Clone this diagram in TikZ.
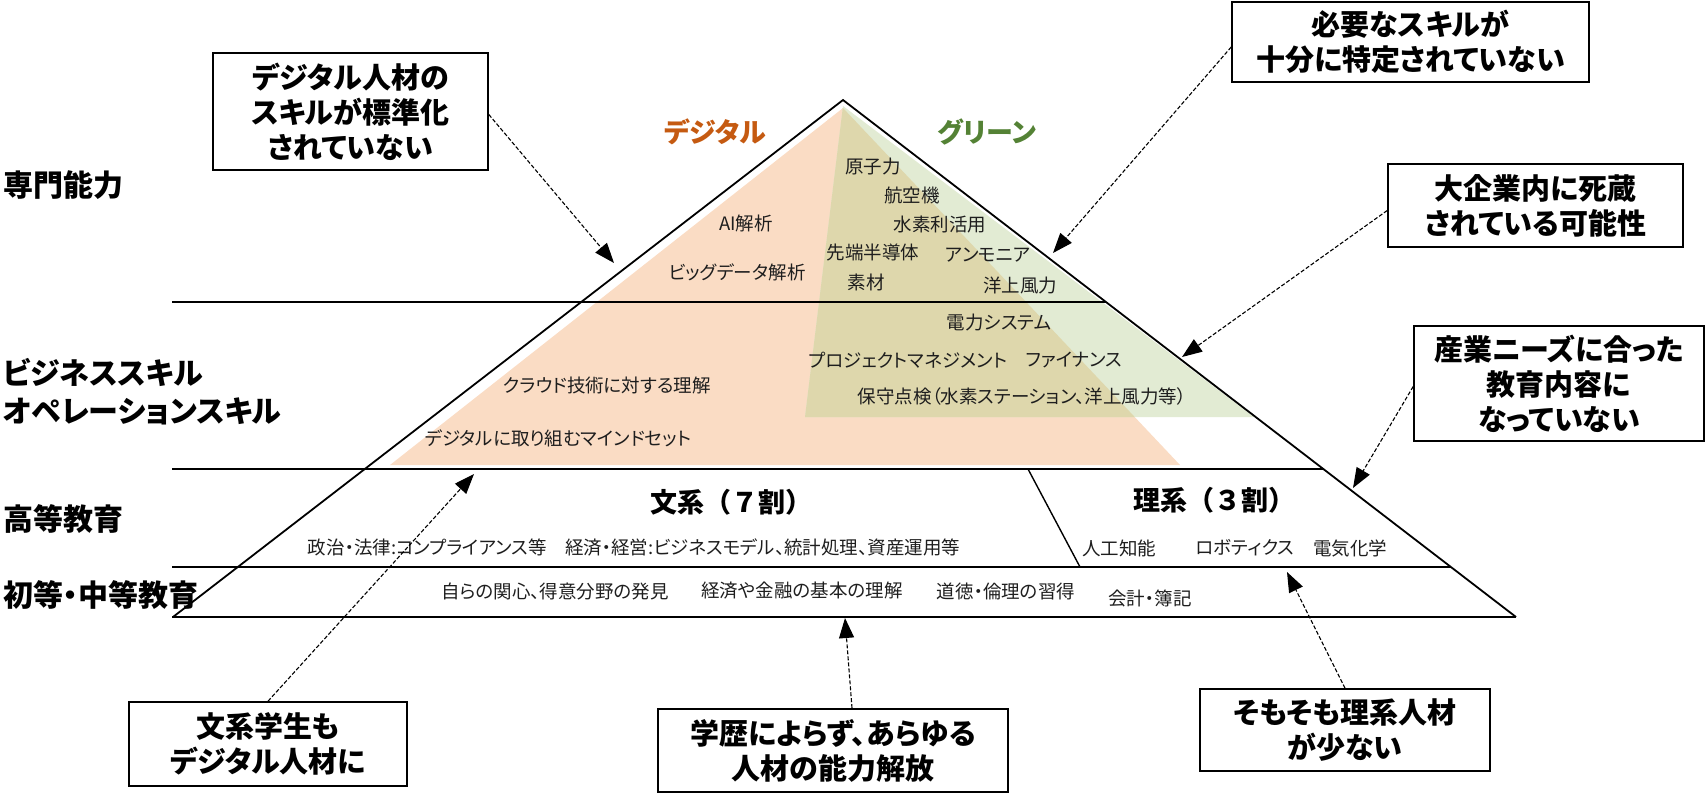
\documentclass[tikz,border=0pt]{standalone}
\usepackage{fontspec}
\setmainfont{Noto Sans CJK JP}[RawFeature=+palt]
\newfontfamily\nopaltfont{Noto Sans CJK JP}
\usetikzlibrary{arrows.meta}
\definecolor{orfill}{RGB}{250,220,196}
\definecolor{grfill}{RGB}{226,235,211}
\definecolor{ovfill}{RGB}{222,215,172}
\definecolor{digi}{RGB}{197,90,17}
\definecolor{gree}{RGB}{84,130,53}
\definecolor{txt}{RGB}{30,30,30}
\begin{document}
\begin{tikzpicture}[x=1pt,y=-1pt,
  small/.style={font=\fontsize{18.5}{20}\selectfont, text=txt, inner sep=0},
  lbl/.style={font=\fontsize{30}{34}\selectfont\bfseries, anchor=west, inner sep=0},
  head/.style={font=\fontsize{27}{30}\selectfont\nopaltfont\bfseries, inner sep=0},
  box/.style={draw, line width=1.6pt, fill=white, align=center, inner sep=0, font=\fontsize{29}{35}\selectfont\bfseries},
  conn/.style={-{Triangle[length=20pt,width=15pt]}, line width=1.1pt, dash pattern=on 4pt off 2pt},
  tier/.style={line width=2pt},
]
\useasboundingbox (0,0) rectangle (1706,795);
% coloured areas
\path[fill=orfill] (843,108) -- (1180,465) -- (390,465) -- cycle;
\path[fill=grfill] (843,106) -- (1254,417) -- (805,417) -- cycle;
\begin{scope}
\clip (843,108) -- (1180,465) -- (390,465) -- cycle;
\path[fill=ovfill] (843,106) -- (1254,417) -- (805,417) -- cycle;
\end{scope}
% pyramid
\draw[line width=1.8pt, line join=miter] (173,617) -- (843,100) -- (1516,617);
\draw[tier] (172,302) -- (1106,302);
\draw[tier] (172,469) -- (1323,469);
\draw[tier] (172,567) -- (1451,567);
\draw[tier] (172,617) -- (1516,617);
\draw[line width=1.4pt] (1028,469) -- (1080,567);
% left labels
\node[lbl] (l1) at (3,185) {専門能力};
\node[lbl] (l2) at (3,372) {ビジネススキル};
\node[lbl] (l3) at (3,411) {オペレーションスキル};
\node[lbl] (l4) at (3,519) {高等教育};
\node[lbl] (l5) at (3,595) {初等・中等教育};
% headings
\node[font=\fontsize{27}{30}\selectfont\bfseries, text=digi, inner sep=0] (hd) at (715,132) {デジタル};
\node[font=\fontsize{27}{30}\selectfont\bfseries, text=gree, inner sep=0] (hg) at (987,132) {グリーン};
% small texts
\node[small] (s1) at (873,167) {原子力};
\node[small] (s2) at (912,195) {航空機};
\node[small] (s3) at (746,223) {AI解析};
\node[small] (s4) at (940,225) {水素利活用};
\node[small] (s5) at (873,252) {先端半導体};
\node[small] (s6) at (988,255) {アンモニア};
\node[small] (s7) at (737,272) {ビッグデータ解析};
\node[small] (s8) at (866,282) {素材};
\node[small] (s9) at (1020,285) {洋上風力};
\node[small] (s10) at (999,323) {電力システム};
\node[small] (s11) at (908,360) {プロジェクトマネジメント};
\node[small] (s12) at (1074,360) {ファイナンス};
\node[small] (s13) at (607,385) {クラウド技術に対する理解};
\node[small] (s14) at (1022,396) {保守点検（水素ステーション、洋上風力等）};
\node[small] (s15) at (558,438) {デジタルに取り組むマインドセット};
\node[head] (h1) at (731,502) {文系（７割）};
\node[head] (h2) at (1214,500) {理系（３割）};
\node[small] (s16) at (634,547) {政治・法律:コンプライアンス等　経済・経営:ビジネスモデル、統計処理、資産運用等};
\node[small] (s17) at (1119,548) {人工知能};
\node[small] (s18) at (1245,548) {ロボティクス};
\node[small] (s19) at (1350,548) {電気化学};
\node[small] (s20) at (555,591) {自らの関心、得意分野の発見};
\node[small] (s21) at (802,591) {経済や金融の基本の理解};
\node[small] (s22) at (1006,591) {道徳・倫理の習得};
\node[small] (s23) at (1150,598) {会計・簿記};
% callout boxes
\node[box, minimum width=275pt, minimum height=117pt] (b1) at (350.5,111.5) {デジタル人材の\\スキルが標準化\\されていない};
\node[box, minimum width=357pt, minimum height=80pt] (b2) at (1410.5,42) {必要なスキルが\\十分に特定されていない};
\node[box, minimum width=295pt, minimum height=83pt] (b3) at (1535.5,205.5) {大企業内に死蔵\\されている可能性};
\node[box, minimum width=290pt, minimum height=115pt] (b4) at (1559,383.5) {産業ニーズに合った\\教育内容に\\なっていない};
\node[box, minimum width=278pt, minimum height=84pt] (b5) at (268,744) {文系学生も\\デジタル人材に};
\node[box, minimum width=350pt, minimum height=83pt] (b6) at (833,750.5) {学歴によらず、あらゆる\\人材の能力解放};
\node[box, minimum width=290pt, minimum height=82pt] (b7) at (1345,730) {そもそも理系人材\\が少ない};
% arrow targets
\coordinate (t1) at (614,263);
\coordinate (t2) at (1053,253);
\coordinate (t3) at (1182,357);
\coordinate (t4) at (1353,488);
\coordinate (t5) at (474,474);
\coordinate (t6) at (845,618);
\coordinate (t7) at (1287,572);
\draw[conn] ([yshift=-3pt]b1.east) -- (t1);
\draw[conn] ([yshift=-5pt]b2.west) -- (t2);
\draw[conn] ([yshift=-5pt]b3.west) -- (t3);
\draw[conn] ([yshift=-3pt]b4.west) -- (t4);
\draw[conn] (b5.north) -- (t5);
\draw[conn] ([xshift=19pt]b6.north) -- (t6);
\draw[conn] (b7.north) -- (t7);
\end{tikzpicture}
\end{document}
